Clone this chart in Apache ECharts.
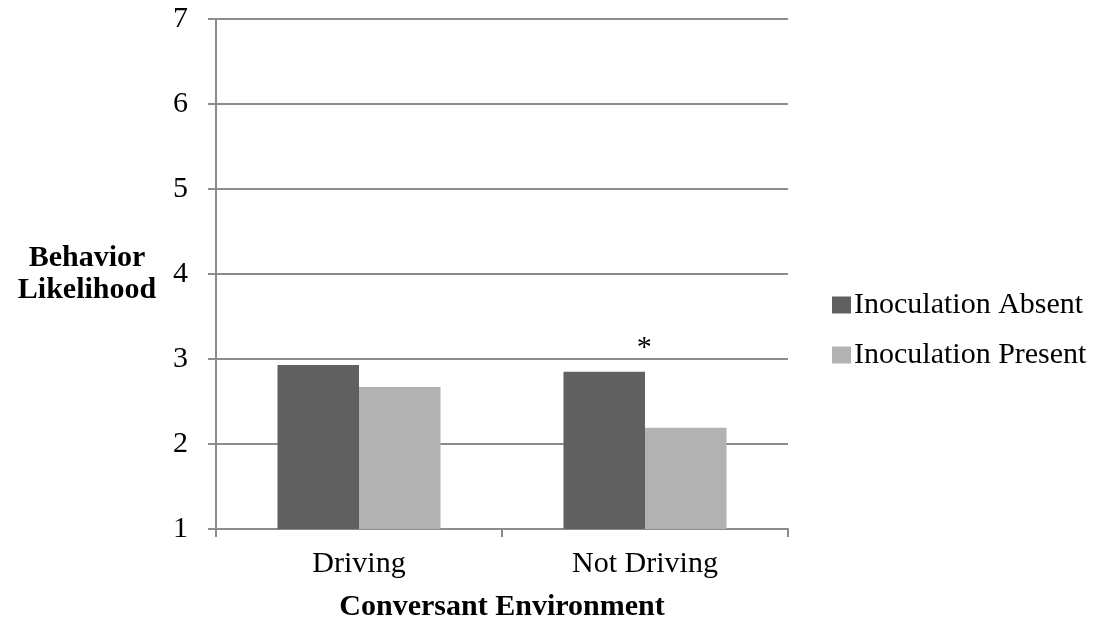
<!DOCTYPE html>
<html><head><meta charset="utf-8">
<script src="https://cdn.jsdelivr.net/npm/echarts@6/dist/echarts.min.js"></script>
<style>html,body{margin:0;padding:0;background:#fff}#c{width:1109px;height:630px}</style>
</head><body><div id="c"></div>
<script>
const categories = ['Driving', 'Not Driving'];
const seriesNames = ['Inoculation Absent', 'Inoculation Present'];
const absentValues = [2.93, 2.85];
const presentValues = [2.67, 2.19];
const significance = ['', '*'];
const yTicks = [1, 2, 3, 4, 5, 6, 7];

const serif = '"Liberation Serif","Times New Roman",serif';
const chart = echarts.init(document.getElementById('c'));
chart.setOption({
  animation: false,
  backgroundColor: '#fff',
  grid: {left: 216, right: 321, top: 19, bottom: 101},
  legend: {
    orient: 'vertical', left: 827, top: 285, itemGap: 20,
    itemWidth: 19, itemHeight: 17, icon: 'rect',
    textStyle: {fontFamily: serif, fontSize: 30, color: '#000', padding: [0, 0, 0, -2]},
    data: seriesNames
  },
  xAxis: {
    type: 'category', data: categories,
    name: 'Conversant Environment', nameLocation: 'middle', nameGap: 63,
    nameTextStyle: {fontFamily: serif, fontSize: 30, fontWeight: 'bold', color: '#000'},
    axisLine: {lineStyle: {color: '#8c8c8c', width: 2}},
    axisTick: {show: true, length: 8, lineStyle: {color: '#8c8c8c', width: 2}},
    axisLabel: {fontFamily: serif, fontSize: 30, color: '#000', margin: 20}
  },
  yAxis: {
    type: 'value', min: yTicks[0], max: yTicks[yTicks.length - 1], interval: 1,
    name: 'Behavior\nLikelihood', nameLocation: 'middle', nameRotate: 0, nameGap: 129,
    nameTextStyle: {fontFamily: serif, fontSize: 30, fontWeight: 'bold', color: '#000', align: 'center', lineHeight: 32},
    axisLine: {show: true, lineStyle: {color: '#8c8c8c', width: 2}},
    axisTick: {show: true, length: 8, lineStyle: {color: '#8c8c8c', width: 2}},
    axisLabel: {fontFamily: serif, fontSize: 30, color: '#000', margin: 28},
    splitLine: {lineStyle: {color: '#8c8c8c', width: 2}}
  },
  series: [
    {
      name: seriesNames[0], type: 'bar', barGap: '0%', barCategoryGap: '43%',
      itemStyle: {color: '#606060'},
      data: absentValues.map((v, i) => ({
        value: v,
        label: {show: significance[i] !== '', formatter: significance[i], position: 'top',
                offset: [40, -4], fontFamily: serif, fontSize: 30, color: '#000'}
      }))
    },
    {
      name: seriesNames[1], type: 'bar',
      itemStyle: {color: '#b2b2b2'},
      data: presentValues
    }
  ]
});
</script></body></html>
